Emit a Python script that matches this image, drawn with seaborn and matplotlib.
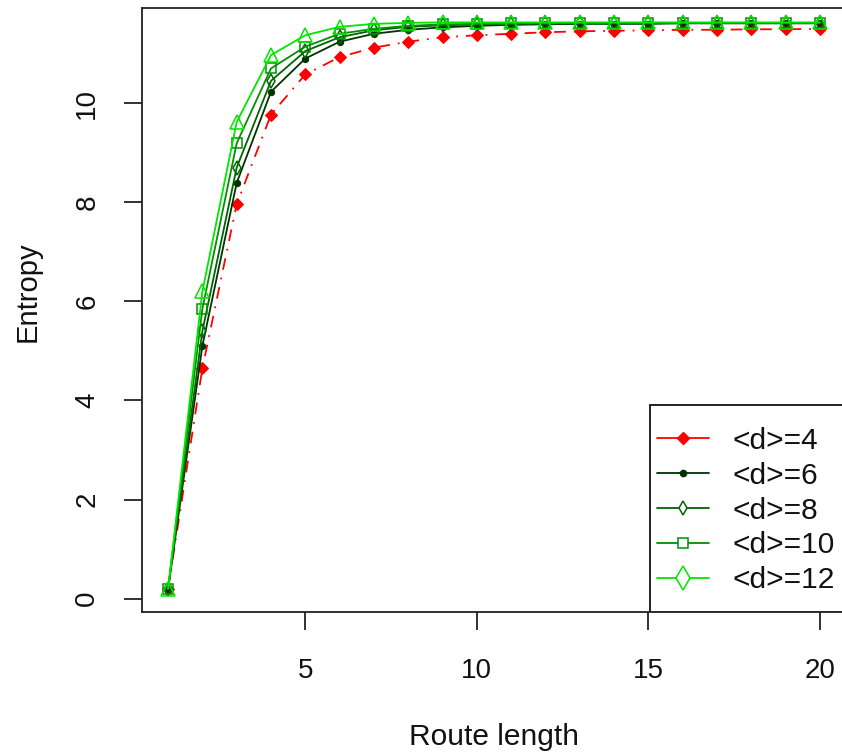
import numpy as np
import seaborn as sns
import matplotlib.pyplot as plt
from matplotlib.lines import Line2D
from matplotlib.patches import Rectangle

route_length = list(range(1, 21))

entropy_d4 = [0.2, 4.65, 7.96, 9.77, 10.58, 10.93, 11.12, 11.24, 11.33, 11.37,
              11.40, 11.43, 11.45, 11.46, 11.47, 11.48, 11.48, 11.49, 11.49, 11.50]
entropy_d6 = [0.2, 5.1, 8.39, 10.23, 10.9, 11.24, 11.40, 11.48, 11.53, 11.56,
              11.58, 11.59, 11.60, 11.60, 11.60, 11.61, 11.61, 11.61, 11.61, 11.61]
entropy_d8 = [0.2, 5.4, 8.7, 10.45, 11.05, 11.33, 11.47, 11.54, 11.57, 11.59,
              11.60, 11.61, 11.61, 11.61, 11.61, 11.62, 11.62, 11.62, 11.62, 11.62]
entropy_d10 = [0.2, 5.85, 9.19, 10.7, 11.14, 11.4, 11.5, 11.56, 11.59, 11.60,
               11.61, 11.61, 11.62, 11.62, 11.62, 11.62, 11.62, 11.62, 11.62, 11.62]
entropy_d12 = [0.2, 6.2, 9.62, 10.97, 11.37, 11.54, 11.60, 11.62, 11.63, 11.63,
               11.63, 11.63, 11.63, 11.63, 11.63, 11.63, 11.63, 11.63, 11.63, 11.63]

labels = ["<d>=4", "<d>=6", "<d>=8", "<d>=10", "<d>=12"]
colors = ["#ff0000", "#003300", "#006400", "#009000", "#00e600"]

sns.set_style("ticks")
plt.rcParams['font.family'] = ['Liberation Sans', 'DejaVu Sans']

fig = plt.figure(figsize=(8.42, 7.52), dpi=100)
ax = fig.add_axes([0.16865, 0.18617, 0.8361, 0.80319])

lw = 1.3
# red series: dot-dash line, filled diamonds
sns.lineplot(x=route_length, y=entropy_d4, ax=ax, color=colors[0], lw=lw,
             marker="D", markersize=6.5, mec=colors[0], mfc=colors[0])
ax.lines[-1].set_dashes((6.5, 4.4, 1, 4.4))
sns.lineplot(x=route_length, y=entropy_d6, ax=ax, color=colors[1], lw=lw,
             marker="o", markersize=4.5, mec=colors[1], mfc=colors[1])
sns.lineplot(x=route_length, y=entropy_d8, ax=ax, color=colors[2], lw=lw,
             marker="d", markersize=7, mec=colors[2], mfc="none", mew=1.1)
sns.lineplot(x=route_length, y=entropy_d10, ax=ax, color=colors[3], lw=lw,
             marker="s", markersize=7.5, mec=colors[3], mfc="none", mew=1.1)
sns.lineplot(x=route_length, y=entropy_d12, ax=ax, color=colors[4], lw=lw,
             marker="^", markersize=9.5, mec=colors[4], mfc="none", mew=1.1)

ax.set_xlim(0.24, 20.76)
ax.set_ylim(-0.27, 11.92)
ax.set_xticks([5, 10, 15, 20])
ax.set_yticks([0, 2, 4, 6, 8, 10])
ax.set_yticklabels(["0", "2", "4", "6", "8", "10"], rotation=90, va="center")

for s in ax.spines.values():
    s.set_visible(True)
    s.set_color("#222222")
    s.set_linewidth(1.3)
ax.tick_params(axis="both", direction="out", length=13, width=1.3,
               color="#222222", labelsize=20, labelcolor="#111111")
ax.tick_params(axis="x", pad=20)
ax.tick_params(axis="y", pad=17)

ax.set_xlabel("Route length", fontsize=21.5, color="#111111", va="center")
ax.set_ylabel("Entropy", fontsize=21, color="#111111", va="center")
ax.xaxis.set_label_coords(0.5, -0.207)
ax.yaxis.set_label_coords(-0.163, 0.53)

# legend frame (R style box in bottom-right corner)
ax.add_patch(Rectangle((0.7216, 0.0), 0.2784, 0.3427, transform=ax.transAxes,
                       facecolor="white", edgecolor="#111111", lw=1.3, zorder=4))

handles = [
    Line2D([], [], color=colors[0], lw=lw, marker="D", markersize=6.5, mfc=colors[0], mec=colors[0]),
    Line2D([], [], color=colors[1], lw=lw, marker="o", markersize=4.5, mfc=colors[1], mec=colors[1]),
    Line2D([], [], color=colors[2], lw=lw, marker="d", markersize=7, mfc="white", mec=colors[2], mew=1.1),
    Line2D([], [], color=colors[3], lw=lw, marker="s", markersize=7.5, mfc="white", mec=colors[3], mew=1.1),
    Line2D([], [], color=colors[4], lw=lw, marker="d", markersize=12, mfc="white", mec=colors[4], mew=1.1),
]
leg = ax.legend(handles, labels, loc="center left", bbox_to_anchor=(0.7315, 0.168),
                borderaxespad=0, borderpad=0, fontsize=21.5, frameon=False,
                handlelength=1.74, handletextpad=0.8, labelspacing=0.23)
leg.set_zorder(5)
for t in leg.get_texts():
    t.set_color("#111111")

fig.savefig("out.png", dpi=100)
